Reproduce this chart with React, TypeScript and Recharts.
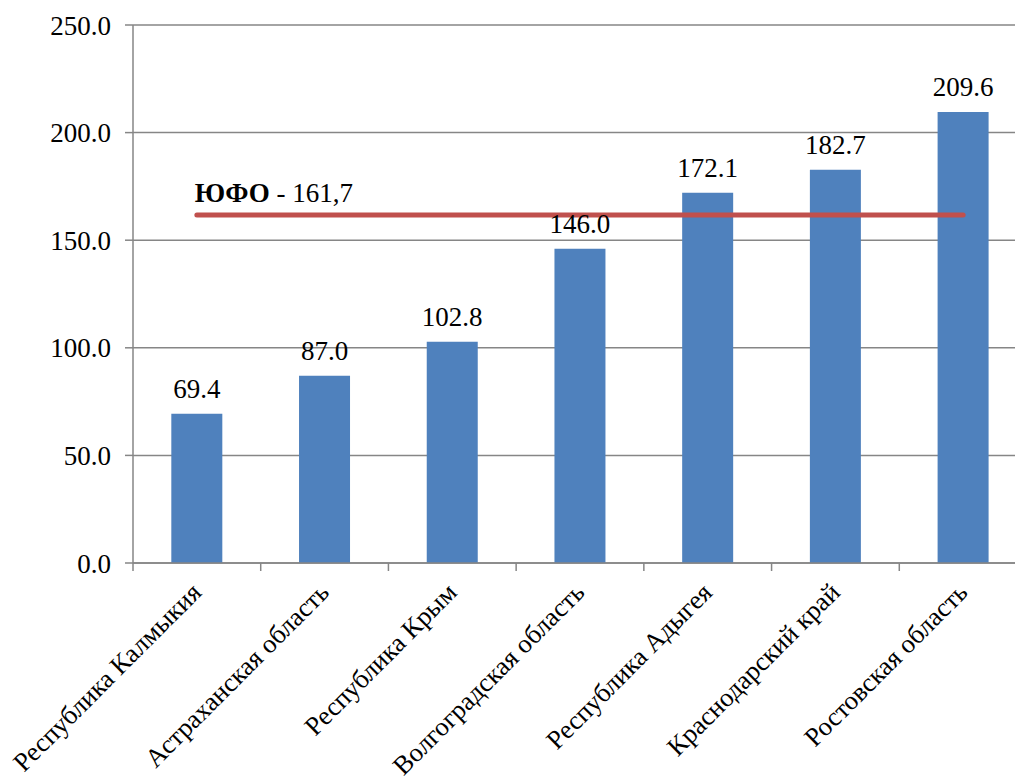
import React from "react";
import { ComposedChart, Bar, Line, XAxis, YAxis, CartesianGrid, LabelList } from "recharts";

const regions = [
  "Республика Калмыкия",
  "Астраханская область",
  "Республика Крым",
  "Волгоградская область",
  "Республика Адыгея",
  "Краснодарский край",
  "Ростовская область",
];
const values = [69.4, 87.0, 102.8, 146.0, 172.1, 182.7, 209.6];
const yufoValues = [161.7, 161.7, 161.7, 161.7, 161.7, 161.7, 161.7];
const yTicks = [0, 50, 100, 150, 200, 250];
const yufoName = "ЮФО";
const yufoText = " - 161,7";

const data = regions.map((name, i) => ({ name, value: values[i], yufo: yufoValues[i] }));

const FONT = "Liberation Serif";
const GRID = "#868686";
const FS = 27;

const XTick = (props: any) => {
  const { x, y, payload } = props;
  const half = payload && typeof payload.offset === "number" ? payload.offset : 0;
  const axisY = y - 8;
  const ax = x + 6;
  const ay = axisY + 31;
  return (
    <g>
      <line x1={x - half} y1={axisY} x2={x - half} y2={axisY + 8} stroke={GRID} strokeWidth={1.5} />
      <text
        x={ax}
        y={ay}
        textAnchor="end"
        transform={`rotate(-45, ${ax}, ${ay})`}
        fontFamily={FONT}
        fontSize={26.5}
        fill="#000"
      >
        {payload.value}
      </text>
    </g>
  );
};

const YufoLabel = (props: any) => {
  const { x, y, index } = props;
  if (index !== 0) return null;
  return (
    <text x={x - 2} y={y - 13} fontFamily={FONT} fontSize={FS} fill="#000">
      <tspan fontWeight="bold">{yufoName}</tspan>
      <tspan>{yufoText}</tspan>
    </text>
  );
};

export default function App() {
  return (
    <div style={{ position: "absolute", left: 0, top: 0, width: 1015, height: 778, overflow: "hidden", background: "#fff", fontFamily: FONT }}>
      <ComposedChart
        width={1040}
        height={778}
        data={data}
        margin={{ top: 25, right: 13, bottom: 0, left: 0 }}
        barCategoryGap="30%"
      >
        <CartesianGrid vertical={false} stroke={GRID} strokeWidth={1.5} />
        <XAxis
          dataKey="name"
          interval={0}
          height={215}
          tickSize={8}
          tickMargin={0}
          tickLine={false}
          axisLine={{ stroke: GRID, strokeWidth: 1.5 }}
          tick={<XTick />}
        />
        <YAxis
          domain={[0, 250]}
          ticks={yTicks}
          width={133}
          tickSize={8}
          tickMargin={14}
          tickFormatter={(v: number) => v.toFixed(1)}
          axisLine={{ stroke: GRID, strokeWidth: 1.5 }}
          tickLine={{ stroke: GRID, strokeWidth: 1.5 }}
          tick={{ fontFamily: FONT, fontSize: FS, fill: "#000" }}
        />
        <Bar dataKey="value" fill="#4F81BD" isAnimationActive={false}>
          <LabelList
            dataKey="value"
            position="top"
            offset={16}
            formatter={(v: any) => Number(v).toFixed(1)}
            fontFamily={FONT}
            fontSize={FS}
            fill="#000"
          />
        </Bar>
        <Line
          dataKey="yufo"
          stroke="#C0504D"
          strokeWidth={5}
          strokeLinecap="round"
          dot={false}
          activeDot={false}
          isAnimationActive={false}
        >
          <LabelList dataKey="yufo" content={<YufoLabel />} />
        </Line>
      </ComposedChart>
    </div>
  );
}
